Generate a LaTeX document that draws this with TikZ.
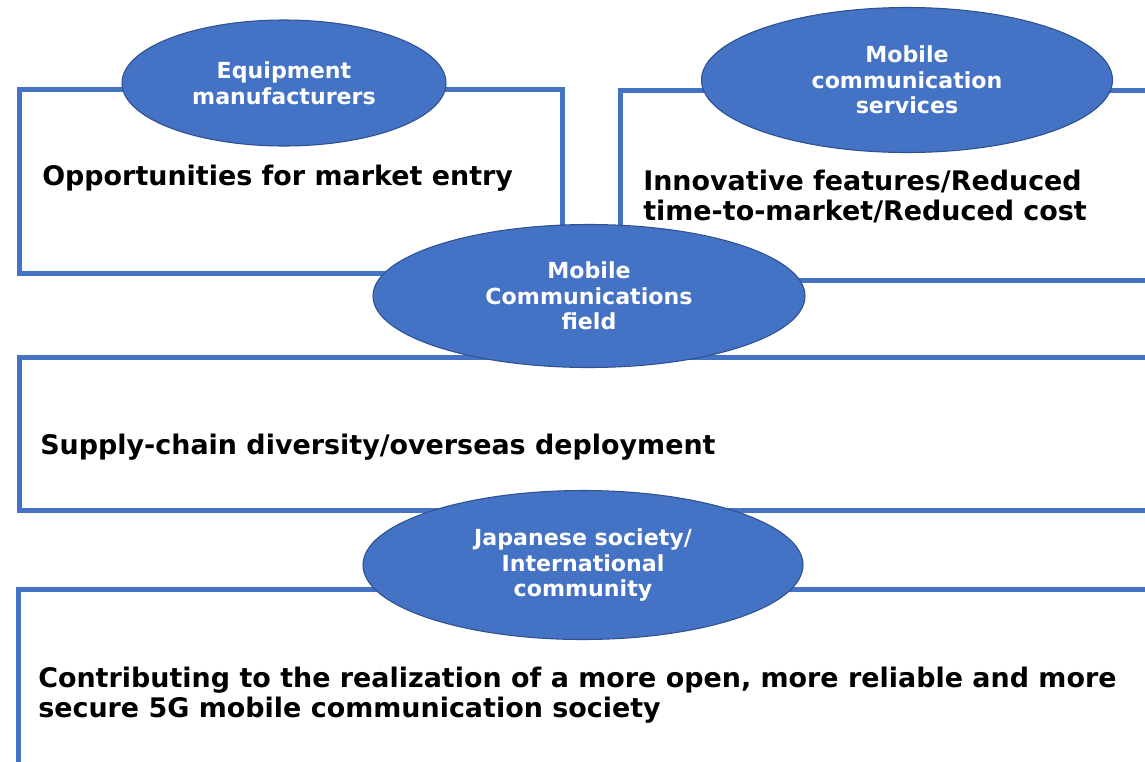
\documentclass[tikz,border=0pt]{standalone}
\usepackage{fontspec}
\setmainfont{DejaVu Sans}
\usepackage{xcolor}
\usepackage{tikz}
\usetikzlibrary{positioning}
\usetikzlibrary{shapes.geometric}

\definecolor{panelblue}{RGB}{68,114,196}
\definecolor{rimblue}{RGB}{47,82,143}

\tikzset{
  panel/.style={draw=panelblue, line width=4pt, fill=white, rectangle, anchor=north west, inner sep=0pt},
  badge/.style={ellipse, fill=panelblue, draw=rimblue, line width=0.8pt, text=white, align=center,
    font=\fontsize{16.6}{19.2}\selectfont\bfseries, inner sep=0pt},
  claim/.style={anchor=west, align=left, font=\fontsize{20.2}{22.5}\selectfont\bfseries, inner sep=0pt}
}

\begin{document}
\begin{tikzpicture}[x=0.75pt, y=-0.75pt]

\useasboundingbox (0,0) rectangle (1145,761);
\clip (0,0) rectangle (1145,761);

% Draw the frames
\node[panel, minimum width=543*0.75pt, minimum height=184*0.75pt] (mfrbox) at (17,87) {};
\node[panel, minimum width=560*0.75pt, minimum height=190*0.75pt] (svcbox) at (618,88) {};
\node[panel, minimum width=1150*0.75pt, minimum height=153*0.75pt] (supbox) at (17,355) {};
\node[panel, minimum width=1150*0.75pt, minimum height=200*0.75pt] (socbox) at (16,587) {};

% Box texts
\node[claim] (mfrtext) at (42,178) {Opportunities for market entry};
\node[claim] (svctext) at (643,197) {Innovative features/Reduced\\time-to-market/Reduced cost};
\node[claim] (suptext) at (40,447) {Supply-chain diversity/overseas deployment};
\node[claim] (soctext) at (38,695) {Contributing to the realization of a more open, more reliable and more\\secure 5G mobile communication society};

% Draw the ellipses
\node[badge, minimum width=324*0.75pt, minimum height=126*0.75pt] (mfr) at (284,83) {Equipment\\manufacturers};
\node[badge, minimum width=411*0.75pt, minimum height=145*0.75pt] (svc) at (907,80) {Mobile\\communication\\services};
\node[badge, minimum width=432*0.75pt, minimum height=143*0.75pt] (field) at (589,296) {Mobile\\Communications\\field};
\node[badge, minimum width=440*0.75pt, minimum height=149*0.75pt] (soc) at (583,565) {Japanese society/\\International\\community};

\end{tikzpicture}
\end{document}
